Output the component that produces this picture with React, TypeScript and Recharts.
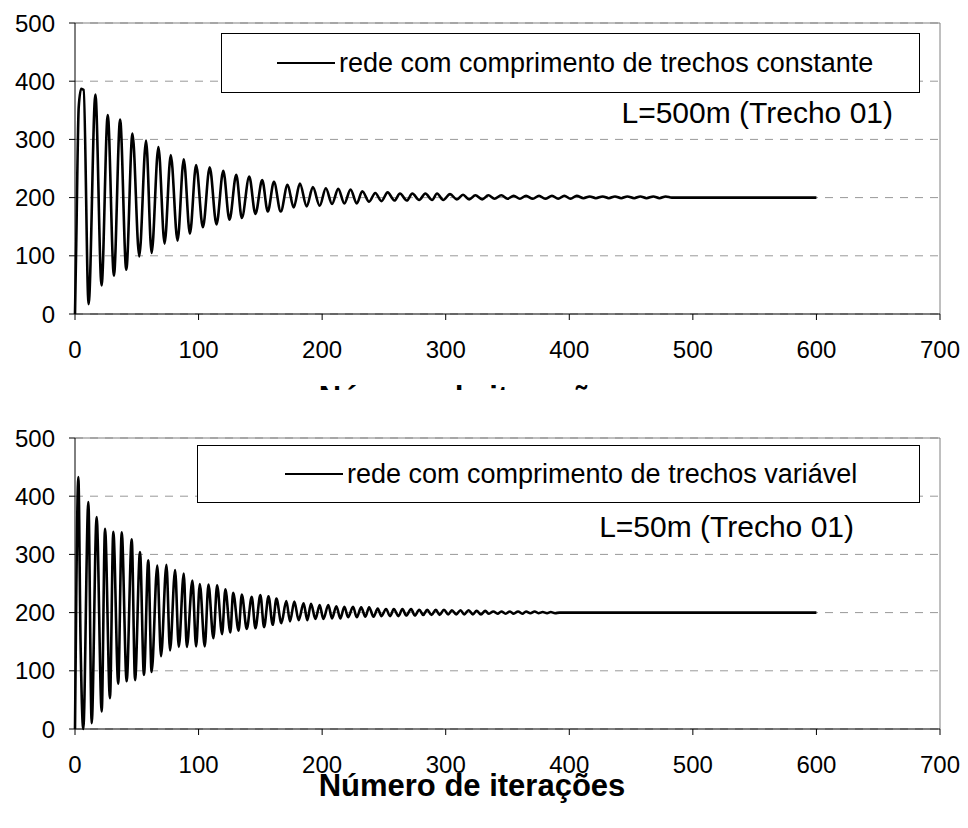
import { LineChart, Line, XAxis, YAxis, CartesianGrid, ReferenceLine } from 'recharts';

const FONT = '"Liberation Sans", Arial, sans-serif';

const xTicks = [0, 100, 200, 300, 400, 500, 600, 700];
const yTicks = [0, 100, 200, 300, 400, 500];

// turning points (constant pipe lengths)
const constIter = [
  0, 1, 3, 5, 7, 11, 16.5, 21.5, 26.5, 31.5, 36.5, 41.5, 46.5, 52, 57.5, 62, 67.5, 72.5, 77.5, 83,
  88, 93, 98, 103.5, 109, 114.5, 120, 125, 130.5, 135, 141, 146, 151.5, 156, 161, 166.5, 172, 177, 182, 187.5,
  192.5, 198, 203, 208, 213, 218, 223, 228, 232.5, 238, 243, 248, 253, 258.5, 263, 268.5, 273, 278.5, 283.5, 289,
  293, 298, 303.5, 309, 314, 319, 324, 329.5, 334.5, 339.5, 345, 350, 355, 360, 365, 370.5, 375.5, 380.5, 386, 391,
  396, 401, 406, 411.5, 416.5, 421.5, 427, 432, 437, 442, 447, 452.5, 457.5, 462.5, 468, 473, 478, 483, 600,
];
const constValue = [
  0, 120, 355, 387, 385, 17, 377, 49, 342, 66, 334, 76, 310, 99, 298, 105, 287, 121, 273, 126,
  266, 138, 256, 149, 252, 154, 246, 162, 239, 165, 236, 172, 230, 176, 227, 176, 222, 183, 224, 185,
  218, 186, 216, 189, 215, 190, 214, 190, 211, 193, 208, 194, 209, 195, 207, 195, 207, 196, 207, 196,
  207, 196, 206, 197, 205, 197, 204, 197, 204, 198, 204, 198, 203, 198, 203, 198, 203, 198, 203, 198,
  203, 198, 203, 199, 202, 199, 202, 199, 202, 199, 202, 199, 202, 199, 202, 199, 202, 200, 200,
];

// turning points (variable pipe lengths)
const varIter = [
  0, 1, 2.7, 4.5, 6.7, 10.8, 13.5, 17.5, 21.6, 24.3, 28.3, 31, 35, 37.8, 41.8, 45.9, 48.6, 52.6, 55.8, 59.3,
  62, 66.6, 69.6, 74, 76.9, 81, 84, 88, 90.5, 95, 98, 101, 105, 108, 112, 115, 119, 121.7, 125.7, 128,
  132.4, 135, 139, 143, 146, 150, 153, 156.6, 160, 163, 167, 171, 174, 177.5, 181, 185, 188, 191, 194.6, 198,
  201, 205, 208, 211.5, 214.7, 218, 221, 225, 228, 231.6, 235, 238, 241.6, 245, 248, 251.7, 255, 258, 261.7, 265,
  268, 272, 275, 278.6, 281.8, 285, 288.5, 292, 295, 298.6, 302, 305, 308.5, 312, 315, 318.5, 322, 325, 328.5, 332,
  335, 338.5, 342, 345, 348.5, 352, 355, 358.5, 362, 365, 368.5, 372, 375, 378.5, 382, 385, 388.5, 392, 600,
];
const varValue = [
  0, 224, 433, 150, 0, 390, 10, 364, 30, 344, 53, 339, 78, 338, 82, 326, 84, 304, 93, 290,
  98, 281, 125, 282, 135, 273, 141, 267, 141, 255, 142, 249, 142, 248, 156, 247, 163, 240, 166, 234,
  169, 231, 172, 227, 173, 230, 175, 228, 179, 224, 182, 220, 185, 219, 187, 216, 187, 215, 189, 213,
  189, 213, 190, 211, 190, 210, 192, 210, 192, 209, 193, 209, 193, 207, 194, 206, 194, 206, 194, 206,
  195, 206, 195, 205, 196, 205, 196, 205, 196, 205, 197, 204, 197, 204, 197, 204, 197, 203, 197, 203,
  198, 202, 198, 202, 198, 202, 198, 202, 198, 202, 199, 202, 199, 201, 199, 201, 199, 200, 200,
];

const xTitle = 'Número de iterações';

function toRows(iter: number[], value: number[]) {
  return iter.map((x, i) => ({ x, y: value[i] }));
}

interface Box {
  left: number;
  top: number;
  width: number;
  height: number;
}

interface PanelProps {
  top: number;
  data: { x: number; y: number }[];
  label: string;
  box: Box;
  lineOffset: number;
  note: string;
  noteRight: number;
  noteTop: number;
}

function Panel({ top, data, label, box, lineOffset, note, noteRight, noteTop }: PanelProps) {
  return (
    <div style={{ position: 'absolute', left: 0, top, width: 968, height: 372 }}>
      <LineChart width={968} height={372} data={data} margin={{ top: 23, right: 28, bottom: 6, left: 0 }}>
        <CartesianGrid vertical={false} stroke="#999" strokeDasharray="8 7" />
        <ReferenceLine y={500} stroke="#808080" />
        <ReferenceLine x={700} stroke="#808080" />
        <XAxis
          dataKey="x"
          type="number"
          domain={[0, 700]}
          ticks={xTicks}
          height={52}
          tickSize={6}
          tickMargin={21}
          axisLine={{ stroke: '#000' }}
          tickLine={{ stroke: '#000' }}
          tick={{ fontSize: 24, fill: '#000' }}
        />
        <YAxis
          type="number"
          domain={[0, 500]}
          ticks={yTicks}
          width={75}
          tickSize={6}
          tickMargin={14}
          axisLine={{ stroke: '#000' }}
          tickLine={{ stroke: '#000' }}
          tick={{ fontSize: 24, fill: '#000' }}
        />
        <Line
          type="monotone"
          dataKey="y"
          stroke="#000"
          strokeWidth={2.6}
          dot={false}
          isAnimationActive={false}
        />
      </LineChart>
      <div
        style={{
          position: 'absolute',
          ...box,
          boxSizing: 'border-box',
          border: '1.5px solid #000',
          background: '#fff',
          display: 'flex',
          alignItems: 'center',
          fontSize: 27,
        }}
      >
        <span style={{ display: 'inline-block', width: 58, height: 2, background: '#000', marginLeft: lineOffset, marginRight: 4 }} />
        <span>{label}</span>
      </div>
      <div style={{ position: 'absolute', right: 968 - noteRight, top: noteTop, fontSize: 30, lineHeight: '30px', whiteSpace: 'nowrap' }}>
        {note}
      </div>
    </div>
  );
}

export default function App() {
  const constRows = toRows(constIter, constValue);
  const varRows = toRows(varIter, varValue);
  return (
    <div style={{ position: 'fixed', left: 0, top: 0, width: 968, height: 828, background: '#fff', fontFamily: FONT, color: '#000', overflow: 'hidden' }}>
      {/* upper panel's axis title, mostly hidden under the lower panel */}
      <div style={{ position: 'absolute', left: -12, top: 376, width: 968, height: 14, overflow: 'hidden' }}>
        <div style={{ position: 'absolute', left: 0, width: 968, top: 7, textAlign: 'center', fontWeight: 'bold', fontSize: 31, lineHeight: '30px' }}>
          {xTitle}
        </div>
      </div>
      <Panel
        top={0}
        data={constRows}
        label="rede com comprimento de trechos constante"
        box={{ left: 221, top: 33, width: 699, height: 60 }}
        lineOffset={55}
        note="L=500m (Trecho 01)"
        noteRight={893}
        noteTop={98}
      />
      <Panel
        top={415}
        data={varRows}
        label="rede com comprimento de trechos variável"
        box={{ left: 197, top: 30, width: 723, height: 58 }}
        lineOffset={87}
        note="L=50m (Trecho 01)"
        noteRight={854}
        noteTop={97}
      />
      <div style={{ position: 'absolute', left: -12, width: 968, top: 774, textAlign: 'center', fontWeight: 'bold', fontSize: 31, lineHeight: '24px' }}>
        {xTitle}
      </div>
    </div>
  );
}
